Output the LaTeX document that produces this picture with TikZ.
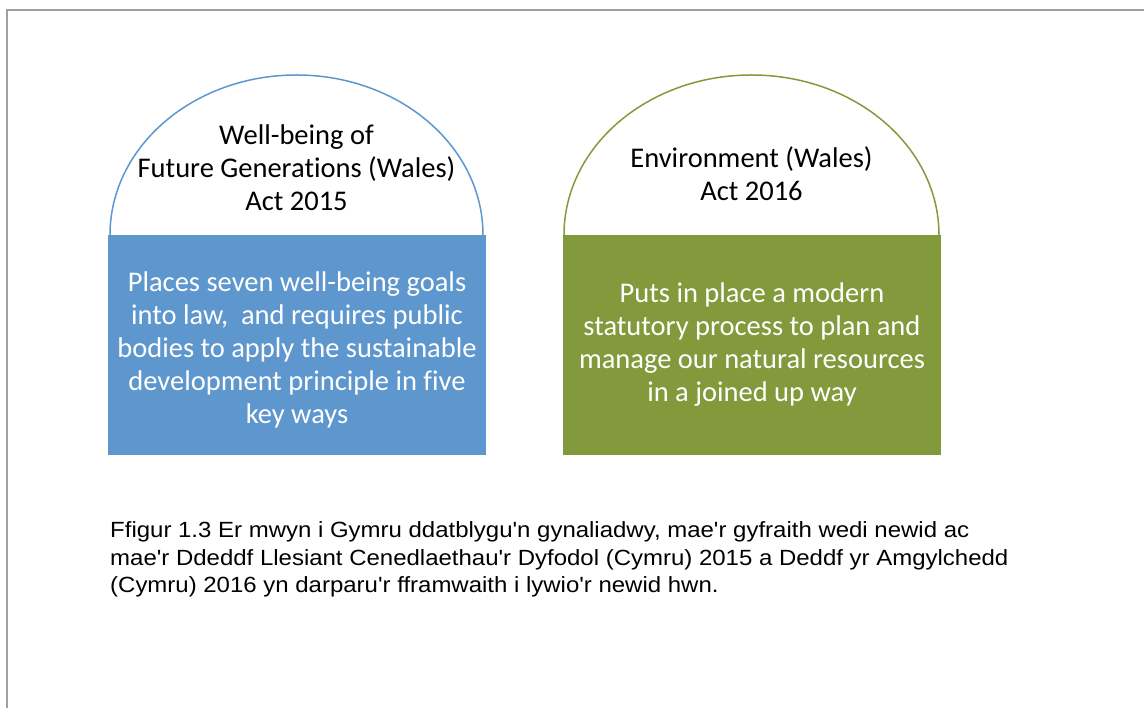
\documentclass[tikz,border=0pt]{standalone}
\usepackage{fontspec}
\setmainfont{Carlito}[Ligatures=NoCommon]
\newfontfamily\capfont{Liberation Sans}
\definecolor{actblue}{HTML}{5E96CE}
\definecolor{actgreen}{HTML}{829A3B}
\definecolor{framegray}{HTML}{A0A0A0}
\begin{document}
\begin{tikzpicture}[x=1pt,y=1pt,
  headtext/.style={align=center,inner sep=0pt,font=\fontsize{28.5}{33}\selectfont,text=black},
  bodytext/.style={align=center,inner sep=0pt,font=\fontsize{28.5}{33}\selectfont,text=white},
  captext/.style={align=left,inner sep=0pt,anchor=west,font=\capfont\fontsize{22}{27.5}\selectfont}]
\useasboundingbox (0,0) rectangle (1144,708);
\draw[framegray,line width=1.5pt] (1144,698) -- (7,698) -- (7,0);
% blue
\draw[actblue,line width=1.5pt] (110,473) arc[start angle=180,end angle=0,x radius=186.5pt,y radius=160pt];
\fill[actblue] (108,473) rectangle (486,253);
\node[headtext] (h1) at (296.5,540.5) {Well-being of\\Future Generations (Wales)\\Act 2015};
\node[bodytext] (b1) at (297,358.5) {Places seven well-being goals\\into law,\ \ and requires public\\bodies to apply the sustainable\\development principle in five\\key ways};
% green
\draw[actgreen,line width=1.5pt] (564,473) arc[start angle=180,end angle=0,x radius=187.5pt,y radius=160pt];
\fill[actgreen] (563,473) rectangle (941,253);
\node[headtext] (h2) at (751.5,534.5) {Environment (Wales)\\Act 2016};
\node[bodytext] (b2) at (752,363.5) {Puts in place a modern\\statutory process to plan and\\manage our natural resources\\in a joined up way};
% caption
\node[captext] (cap) at (110,148) {\scalebox{1.09}[1]{\begin{tabular}{@{}l@{}}Ffigur 1.3 Er mwyn i Gymru ddatblygu'n gynaliadwy, mae'r gyfraith wedi newid ac\\mae'r Ddeddf Llesiant Cenedlaethau'r Dyfodol (Cymru) 2015 a Deddf yr Amgylchedd\\(Cymru) 2016 yn darparu'r fframwaith i lywio'r newid hwn.\end{tabular}}};
\end{tikzpicture}
\end{document}
